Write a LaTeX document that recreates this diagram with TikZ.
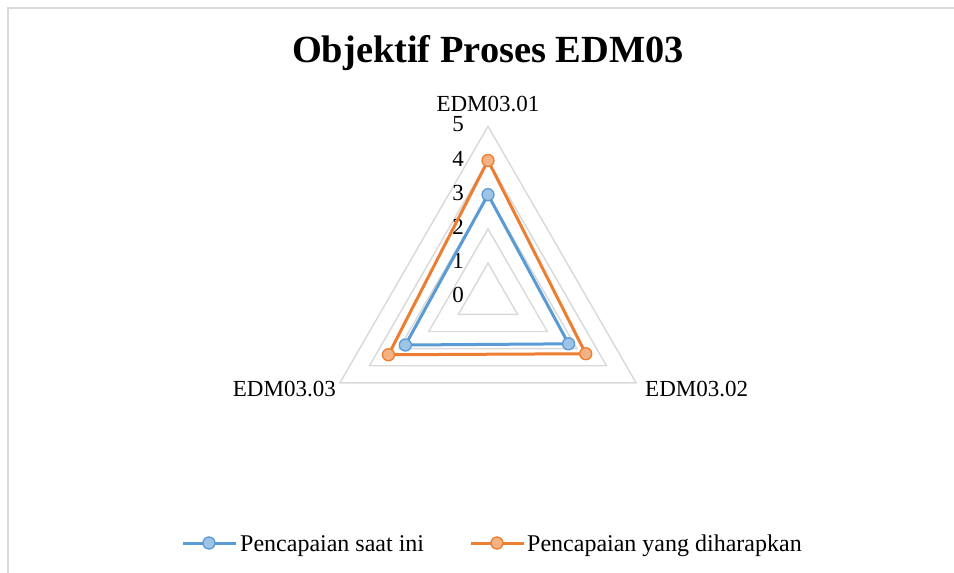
\documentclass[tikz,border=0pt]{standalone}
\usepackage{fontspec}
\setmainfont{Liberation Serif}
\begin{document}
\begin{tikzpicture}[x=1pt,y=-1pt,
  gridline/.style={draw=black!15, line width=1.4pt},
  frameline/.style={draw=black!15, line width=1.4pt},
  seriesA/.style={draw=serA, line width=3pt, line join=round, line cap=round},
  seriesB/.style={draw=serB, line width=3pt, line join=round, line cap=round},
  markA/.style={circle, draw=serA, fill=serAfill, line width=1.3pt, minimum size=12pt, inner sep=0pt},
  markB/.style={circle, draw=serB, fill=serBfill, line width=1.3pt, minimum size=12pt, inner sep=0pt},
  lbl/.style={font=\fontsize{23}{26}\selectfont, inner sep=0pt},
  leglbl/.style={font=\fontsize{24}{27}\selectfont, inner sep=0pt, anchor=base west},
  ticklbl/.style={font=\fontsize{23}{26}\selectfont, inner sep=0pt, anchor=east}]
\definecolor{serA}{HTML}{5B9BD5}
\definecolor{serB}{HTML}{ED7D31}
\definecolor{serAfill}{HTML}{9DC3E6}
\definecolor{serBfill}{HTML}{F4B183}
\def\u{34.2}
\useasboundingbox (0,0) rectangle (954,573);
\fill[white] (0,0) rectangle (954,573);
% chart frame
\draw[frameline] (8,573) -- (8,8) -- (954,8);
% title
\node[font=\fontsize{38.4}{44}\selectfont\bfseries, inner sep=0pt, anchor=base] (title) at (488,62) {Objektif Proses EDM03};
% axis labels
\node[lbl, anchor=base] (ax1) at (488,111) {EDM03.01};
\node[lbl, anchor=base west] (ax2) at (645,396) {EDM03.02};
\node[lbl, anchor=base east] (ax3) at (336,396) {EDM03.03};
\begin{scope}[shift={(488,297.3)}]
  \coordinate (C) at (0,0);
  % concentric grid triangles
  \foreach \v in {1,...,5}
    \draw[gridline] (270:\v*\u) -- (30:\v*\u) -- (150:\v*\u) -- cycle;
  % scale labels
  \foreach \v in {0,...,5}
    \node[ticklbl] (tick\v) at ([xshift=-24pt,yshift=2pt]270:\v*\u) {\v};
  % data points
  \coordinate (a1) at (270:3.00*\u);
  \coordinate (a2) at (30:2.72*\u);
  \coordinate (a3) at (150:2.79*\u);
  \coordinate (b1) at (270:4.00*\u);
  \coordinate (b2) at (30:3.30*\u);
  \coordinate (b3) at (150:3.36*\u);
  \draw[seriesA] (a1) -- (a2) -- (a3) -- cycle;
  \foreach \p in {a1,a2,a3} \node[markA] (m\p) at (\p) {};
  \draw[seriesB] (b1) -- (b2) -- (b3) -- cycle;
  \foreach \p in {b1,b2,b3} \node[markB] (m\p) at (\p) {};
\end{scope}
% legend
\coordinate (la0) at (183,543);
\coordinate (la1) at (236,543);
\draw[seriesA, line cap=butt] (la0) -- (la1);
\node[markA] (lma) at (209,543) {};
\node[leglbl] (lta) at (240,551) {Pencapaian saat ini};
\coordinate (lb0) at (471,543);
\coordinate (lb1) at (524,543);
\draw[seriesB, line cap=butt] (lb0) -- (lb1);
\node[markB] (lmb) at (497,543) {};
\node[leglbl] (ltb) at (527,551) {Pencapaian yang diharapkan};
\end{tikzpicture}
\end{document}
